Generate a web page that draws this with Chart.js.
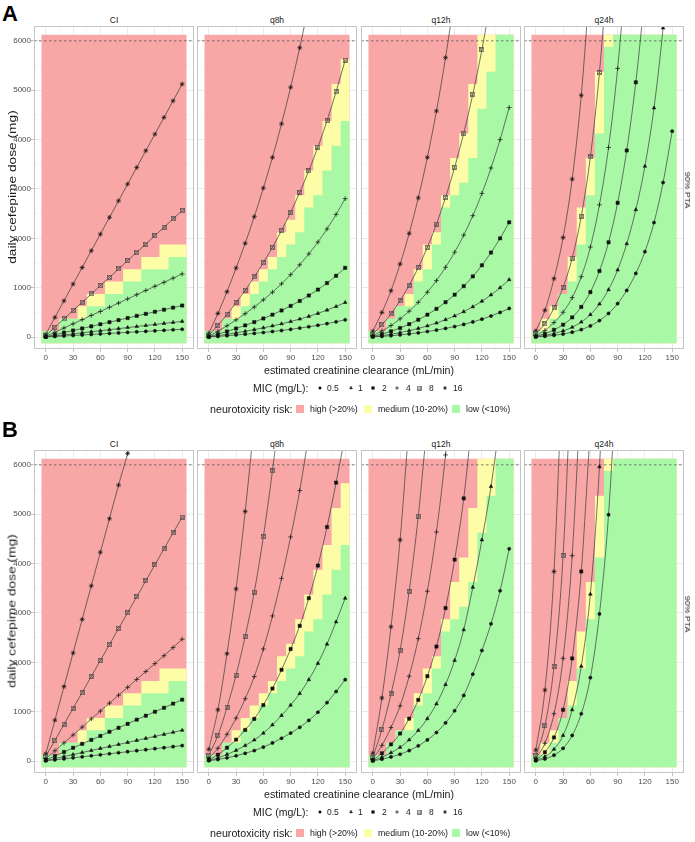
<!DOCTYPE html>
<html>
<head>
<meta charset="utf-8">
<script src="https://cdn.jsdelivr.net/npm/chart.js@4.4.1/dist/chart.umd.min.js"></script>
<style>
html,body{margin:0;padding:0;background:#fff;}
body{width:695px;height:842px;position:relative;overflow:hidden;font-family:"Liberation Sans",Arial,sans-serif;color:#1a1a1a;}
canvas{position:absolute;}
.t{position:absolute;white-space:nowrap;line-height:1;}
</style>
</head>
<body>
<script>
// ---------------- DATA ----------------
const crcl = [0,10,20,30,40,50,60,70,80,90,100,110,120,130,140,150];
const micLabels = ['0.5','1','2','4','8','16'];
const regimens = ['CI','q8h','q12h','q24h'];
const panelTags = ['A','B'];
const xTickLabels = [0,30,60,90,120,150];
const xGridValues = [0,15,30,45,60,75,90,105,120,135,150];
const yTickLabels = [0,1000,2000,3000,4000,5000,6000];
const yGridValues = [0,500,1000,1500,2000,2500,3000,3500,4000,4500,5000,5500,6000];
const ptaDose = 6000;
const riskNames = ['high (>20%)','medium (10-20%)','low (<10%)'];

// neurotoxicity risk bins (CrCl bin centres = crcl): upper edge of low-risk tile, lower edge of high-risk tile
const tileBottom = -125, tileTop = 6125;
const lowTop_CI   = [125,125,375,375,375,625,625,875,875,1125,1125,1375,1375,1375,1625,1625];
const highBot_CI  = [125,125,375,375,625,875,875,1125,1125,1375,1375,1625,1625,1875,1875,1875];
const lowTop_q8   = [125,125,375,375,625,875,1125,1375,1625,1875,2125,2625,2875,3375,3875,4375];
const highBot_q8  = [125,125,375,625,875,1125,1375,1625,2125,2375,2875,3375,3875,4375,5125,5625];
const lowTop_q12  = [125,125,375,625,625,1125,1375,1875,2625,2875,3125,3625,4625,5375,6125,6125];
const highBot_q12 = [125,125,375,625,875,1375,1875,2125,2875,3625,4125,5125,6125,6125,6125,6125];
const lowTop_q24  = [125,125,375,875,1125,1875,2875,4125,5875,6125,6125,6125,6125,6125,6125,6125];
const highBot_q24 = [125,375,625,875,1625,2625,3625,5375,6125,6125,6125,6125,6125,6125,6125,6125];

// Panel A: daily dose (mg) reaching 90% PTA, per MIC
const A_CI_m05 = [2,13,23,34,44,55,65,76,86,97,107,118,128,139,150,160];
const A_CI_m1  = [4,25,46,67,88,110,130,151,172,194,215,236,257,278,299,320];
const A_CI_m2  = [8,50,92,135,176,219,261,303,345,387,430,472,514,556,598,640];
const A_CI_m4  = [15,100,185,270,355,440,520,605,690,775,860,945,1030,1110,1195,1280];
const A_CI_m8  = [30,200,370,540,705,875,1045,1210,1380,1550,1720,1885,2055,2225,2395,2560];
const A_CI_m16 = [60,400,735,1075,1410,1750,2085,2425,2760,3100,3435,3775,4110,4450,4785,5125];

const A_q8_m05 = [3,15,29,44,59,76,94,114,135,158,183,211,241,274,311,351];
const A_q8_m1  = [5,30,58,88,119,153,189,228,270,316,366,421,481,548,621,701];
const A_q8_m2  = [10,60,115,175,238,305,378,455,540,633,733,843,963,1095,1243,1403];
const A_q8_m4  = [20,120,230,350,475,610,755,910,1080,1265,1465,1685,1925,2190,2485,2805];
const A_q8_m8  = [40,240,460,700,950,1220,1510,1820,2160,2530,2930,3370,3850,4380,4970,5610];
const A_q8_m16 = [80,480,920,1400,1900,2440,3020,3640,4320,5060,5860,6740,null,null,null,null];

const A_q12_m05 = [4,16,29,46,66,88,114,143,177,215,258,308,364,428,500,581];
const A_q12_m1  = [8,31,59,93,131,176,228,286,354,430,516,615,728,856,1000,1163];
const A_q12_m2  = [15,63,118,185,263,353,455,573,708,860,1033,1230,1455,1713,2000,2325];
const A_q12_m4  = [30,125,235,370,525,705,910,1145,1415,1720,2065,2460,2910,3425,4000,4650];
const A_q12_m8  = [60,250,470,740,1050,1410,1820,2290,2830,3440,4130,4920,5820,6850,null,null];
const A_q12_m16 = [120,500,940,1480,2100,2820,3640,4580,5660,6880,null,null,null,null,null,null];

const A_q24_m05 = [4,17,37,63,100,153,228,335,480,680,945,1290,1730,2320,3130,4170];
const A_q24_m1  = [8,34,74,126,200,306,456,670,960,1360,1890,2580,3460,4640,6260,8340];
const A_q24_m2  = [16,68,148,252,400,612,912,1340,1920,2720,3780,5160,6920,null,null,null];
const A_q24_m4  = [32,136,296,504,800,1224,1824,2680,3840,5440,7560,null,null,null,null,null];
const A_q24_m8  = [64,272,592,1008,1600,2448,3648,5360,7680,null,null,null,null,null,null,null];
const A_q24_m16 = [128,544,1184,2016,3200,4896,7296,null,null,null,null,null,null,null,null,null];

// Panel B
const B_CI_m05 = [6,27,47,68,88,109,129,150,170,191,212,232,253,273,294,315];
const B_CI_m1  = [12,53,93,134,175,216,257,298,338,379,420,461,502,543,584,625];
const B_CI_m2  = [25,105,185,270,350,430,510,595,675,755,840,920,1000,1080,1165,1245];
const B_CI_m4  = [50,210,370,530,690,855,1015,1175,1335,1495,1655,1815,1975,2135,2300,2470];
const B_CI_m8  = [100,420,745,1070,1390,1715,2040,2360,2685,3005,3330,3650,3975,4300,4620,4940];
const B_CI_m16 = [150,830,1510,2190,2870,3550,4230,4910,5590,6230,6950,null,null,null,null,null];

const B_q8_m05 = [8,33,68,109,158,214,284,368,463,568,685,825,990,1185,1410,1650];
const B_q8_m1  = [15,65,136,218,316,428,568,735,925,1135,1370,1650,1980,2370,2820,3300];
const B_q8_m2  = [30,130,272,436,632,856,1136,1470,1850,2270,2740,3300,3960,4740,5640,6600];
const B_q8_m4  = [60,260,544,872,1264,1712,2272,2940,3700,4540,5480,6600,null,null,null,null];
const B_q8_m8  = [120,520,1088,1744,2528,3424,4544,5880,7400,null,null,null,null,null,null,null];
const B_q8_m16 = [240,1040,2176,3488,5056,6848,null,null,null,null,null,null,null,null,null,null];

const B_q12_m05 = [5,40,85,140,215,310,430,580,775,1020,1330,1760,2240,2780,3450,4300];
const B_q12_m1  = [10,80,170,280,430,620,860,1160,1550,2040,2660,3520,4480,5560,6900,null];
const B_q12_m2  = [20,160,340,560,860,1240,1720,2320,3100,4080,5320,7040,null,null,null,null];
const B_q12_m4  = [40,320,680,1120,1720,2480,3440,4640,6200,8160,null,null,null,null,null,null];
const B_q12_m8  = [80,640,1360,2240,3440,4960,6880,null,null,null,null,null,null,null,null,null];
const B_q12_m16 = [160,1280,2720,4480,6880,null,null,null,null,null,null,null,null,null,null,null];

const B_q24_m05 = [7,45,120,260,520,960,1690,2980,4990,8200,null,null,null,null,null,null];
const B_q24_m1  = [14,90,240,520,1040,1920,3380,5960,9980,null,null,null,null,null,null,null];
const B_q24_m2  = [28,180,480,1040,2080,3840,6760,null,null,null,null,null,null,null,null,null];
const B_q24_m4  = [56,360,960,2080,4160,7680,null,null,null,null,null,null,null,null,null,null];
const B_q24_m8  = [112,720,1920,4160,8320,null,null,null,null,null,null,null,null,null,null,null];
const B_q24_m16 = [224,1440,3840,8320,null,null,null,null,null,null,null,null,null,null,null,null];

// ---------------- LAYOUT / STYLE ----------------
const PW = 160, PH = 323, XH = 18, YW0 = 34;
const colLeft = [34,197,361,524];
const rowTop = [26,450];
const X_MIN = -13, X_MAX = 163, Y_MIN = -240, Y_MAX = 6300;
const RED = '#f8a6a6', YELLOW = '#fdfca7', GREEN = '#a8f8a6';
Chart.defaults.font.family = '"Liberation Sans", Arial, sans-serif';

function boxCross(){
  const c = document.createElement('canvas'); c.width = 5; c.height = 5;
  const g = c.getContext('2d');
  g.strokeStyle = '#4a4a4a'; g.lineWidth = 0.7;
  g.strokeRect(0.5,0.5,4,4);
  g.beginPath(); g.moveTo(0.5,0.5); g.lineTo(4.5,4.5); g.moveTo(4.5,0.5); g.lineTo(0.5,4.5); g.stroke();
  return c;
}
const shapeStyles = [
  {ps:'circle', r:1.6, bw:0.5},
  {ps:'triangle', r:2.1, bw:0.5},
  {ps:'rect', r:2.3, bw:0.5},
  {ps:'cross', r:2.4, bw:0.7},
  {ps:boxCross(), r:2.5, bw:0.7},
  {ps:'star', r:2.4, bw:0.7}
];

const rowsData = [
  [[A_CI_m05,A_CI_m1,A_CI_m2,A_CI_m4,A_CI_m8,A_CI_m16],
   [A_q8_m05,A_q8_m1,A_q8_m2,A_q8_m4,A_q8_m8,A_q8_m16],
   [A_q12_m05,A_q12_m1,A_q12_m2,A_q12_m4,A_q12_m8,A_q12_m16],
   [A_q24_m05,A_q24_m1,A_q24_m2,A_q24_m4,A_q24_m8,A_q24_m16]],
  [[B_CI_m05,B_CI_m1,B_CI_m2,B_CI_m4,B_CI_m8,B_CI_m16],
   [B_q8_m05,B_q8_m1,B_q8_m2,B_q8_m4,B_q8_m8,B_q8_m16],
   [B_q12_m05,B_q12_m1,B_q12_m2,B_q12_m4,B_q12_m8,B_q12_m16],
   [B_q24_m05,B_q24_m1,B_q24_m2,B_q24_m4,B_q24_m8,B_q24_m16]]
];
const lowTops = [lowTop_CI, lowTop_q8, lowTop_q12, lowTop_q24];
const highBots = [highBot_CI, highBot_q8, highBot_q12, highBot_q24];

function stepPoints(vals){
  const half = (crcl[1]-crcl[0])/2;
  const pts = crcl.map((x,i)=>({x:x-half, y:vals[i]}));
  pts.push({x:crcl[crcl.length-1]+half, y:vals[vals.length-1]});
  return pts;
}

const borderPlugin = {
  id:'panelBorder',
  afterDraw(chart){
    const {ctx, chartArea:a} = chart;
    ctx.save(); ctx.strokeStyle = '#c4c4c4'; ctx.lineWidth = 1;
    ctx.strokeRect(a.left+0.5, a.top+0.5, a.right-a.left-1, a.bottom-a.top-1);
    ctx.restore();
  }
};

function zeroPad(s){ s.paddingTop = 0; s.paddingBottom = 0; s.paddingLeft = 0; s.paddingRight = 0; }

function makePanel(r, c){
  const yW = c === 0 ? YW0 : 0;
  const W = yW + PW, H = PH + XH;
  const cv = document.createElement('canvas');
  cv.width = W; cv.height = H;
  cv.style.left = (colLeft[c]-yW)+'px'; cv.style.top = rowTop[r]+'px';
  cv.style.width = W+'px'; cv.style.height = H+'px';
  document.body.appendChild(cv);

  const ds = [];
  rowsData[r][c].forEach((vals,i)=>{
    const s = shapeStyles[i];
    ds.push({
      label:'MIC '+micLabels[i],
      data: crcl.map((x,j)=>({x:x, y:vals[j]})),
      borderColor:'#3a3a3a', borderWidth:0.7,
      cubicInterpolationMode:'monotone',
      pointStyle:s.ps, pointRadius:s.r, pointBorderWidth:s.bw,
      pointBackgroundColor:'#111', pointBorderColor:'#111',
      fill:false, order:i
    });
  });
  ds.push({label:'90% PTA limit', data:[{x:X_MIN,y:ptaDose},{x:X_MAX,y:ptaDose}],
    borderColor:'#5a5a5a', borderWidth:0.8, borderDash:[2.5,2.5], pointRadius:0, fill:false, order:7});
  ds.push({label:riskNames[2], data:stepPoints(lowTops[c]), stepped:true,
    fill:{value:tileBottom}, backgroundColor:GREEN, borderWidth:0, borderColor:'rgba(0,0,0,0)', pointRadius:0, order:8});
  ds.push({label:riskNames[1], data:stepPoints(highBots[c]), stepped:true,
    fill:{value:tileBottom}, backgroundColor:YELLOW, borderWidth:0, borderColor:'rgba(0,0,0,0)', pointRadius:0, order:9});
  ds.push({label:riskNames[0], data:stepPoints(crcl.map(()=>tileTop)), stepped:true,
    fill:{value:tileBottom}, backgroundColor:RED, borderWidth:0, borderColor:'rgba(0,0,0,0)', pointRadius:0, order:10});

  new Chart(cv, {
    type:'line',
    data:{datasets:ds},
    plugins:[borderPlugin],
    options:{
      responsive:false, animation:false, devicePixelRatio:1, events:[],
      layout:{padding:0, autoPadding:false},
      plugins:{legend:{display:false}, tooltip:{enabled:false}},
      scales:{
        x:{
          type:'linear', min:X_MIN, max:X_MAX,
          afterBuildTicks:s=>{ s.ticks = xGridValues.map(v=>({value:v})); },
          afterFit:s=>{ s.height = XH; zeroPad(s); },
          ticks:{autoSkip:false, maxRotation:0, minRotation:0, padding:1, color:'#4d4d4d', font:{size:8},
            callback:v=> xTickLabels.includes(v) ? String(v) : ''},
          grid:{
            color:ctx=> (ctx.tick && xTickLabels.includes(ctx.tick.value)) ? '#e4e4e4' : '#f1f1f1',
            lineWidth:ctx=> (ctx.tick && xTickLabels.includes(ctx.tick.value)) ? 0.8 : 0.5,
            drawTicks:true, tickLength:3,
            tickColor:ctx=> (ctx.tick && xTickLabels.includes(ctx.tick.value)) ? '#b0b0b0' : 'rgba(0,0,0,0)'
          },
          border:{display:false}
        },
        y:{
          type:'linear', min:Y_MIN, max:Y_MAX,
          afterBuildTicks:s=>{ s.ticks = yGridValues.map(v=>({value:v})); },
          afterFit:s=>{ s.width = yW; zeroPad(s); },
          ticks:{display:c===0, autoSkip:false, padding:0, color:'#4d4d4d', font:{size:8},
            callback:v=> yTickLabels.includes(v) ? String(v) : ''},
          grid:{
            color:ctx=> (ctx.tick && yTickLabels.includes(ctx.tick.value)) ? '#e4e4e4' : '#f1f1f1',
            lineWidth:ctx=> (ctx.tick && yTickLabels.includes(ctx.tick.value)) ? 0.8 : 0.5,
            drawTicks:c===0, tickLength:3,
            tickColor:ctx=> (ctx.tick && yTickLabels.includes(ctx.tick.value)) ? '#b0b0b0' : 'rgba(0,0,0,0)'
          },
          border:{display:false}
        }
      }
    }
  });
}

function addText(txt, x, y, size, opts){
  opts = opts || {};
  const d = document.createElement('div');
  d.className = 't'; d.textContent = txt;
  d.style.fontSize = size+'px';
  d.style.left = x+'px'; d.style.top = y+'px';
  let tr = opts.left ? 'translate(0,-50%)' : 'translate(-50%,-50%)';
  if (opts.rotate) tr += ' rotate('+opts.rotate+'deg)';
  if (opts.sx) tr += ' scaleX('+opts.sx+')';
  d.style.transform = tr;
  if (opts.bold) d.style.fontWeight = 'bold';
  if (opts.color) d.style.color = opts.color;
  document.body.appendChild(d);
}

function legendSymbol(i, cx, cy){
  const cv = document.createElement('canvas');
  cv.width = 10; cv.height = 10;
  cv.style.left = (cx-5)+'px'; cv.style.top = (cy-5)+'px';
  document.body.appendChild(cv);
  const g = cv.getContext('2d');
  g.fillStyle = '#111'; g.strokeStyle = '#111';
  const s = shapeStyles[i];
  if (Chart.helpers && Chart.helpers.drawPoint){
    g.lineWidth = s.bw;
    Chart.helpers.drawPoint(g, {pointStyle:s.ps, radius:s.r*0.8, borderWidth:s.bw, rotation:0}, 5, 5);
  }
}

function legendKey(color, x, cy){
  const d = document.createElement('div');
  d.style.position = 'absolute'; d.style.left = x+'px'; d.style.top = (cy-4)+'px';
  d.style.width = '8px'; d.style.height = '8px'; d.style.background = color;
  document.body.appendChild(d);
}

const micSymX = [320,351,373,397,419,445];
const micLabX = [327,358,382,406,429,453];
const riskKeyX = [296,364,452];
const riskLabX = [310,378,466];
const riskColors = [RED, YELLOW, GREEN];

for (let r=0; r<2; r++){
  const top = rowTop[r];
  for (let c=0; c<4; c++){
    makePanel(r,c);
    addText(regimens[c], colLeft[c]+PW/2, top-6, 8.5);
  }
  addText(panelTags[r], 2, top-12 + (r===0?0:-8), 22, {left:true, bold:true, color:'#000'});
  addText('daily cefepime dose (mg)', 12, top+161, 11, {rotate:-90, sx:1.25});
  addText('90% PTA', 687, top+164, 8, {rotate:90, sx:1.1});
  addText('estimated creatinine clearance (mL/min)', 359, top+343.5, 10.7);
  const my = top+362;
  addText('MIC (mg/L):', 253, my, 10.5, {left:true});
  for (let i=0;i<6;i++){
    legendSymbol(i, micSymX[i], my);
    addText(micLabels[i], micLabX[i], my, 8.5, {left:true});
  }
  const ny = top+383;
  addText('neurotoxicity risk:', 210, ny, 10.7, {left:true});
  for (let i=0;i<3;i++){
    legendKey(riskColors[i], riskKeyX[i], ny);
    addText(riskNames[i], riskLabX[i], ny, 8.8, {left:true});
  }
}
</script>
</body>
</html>
